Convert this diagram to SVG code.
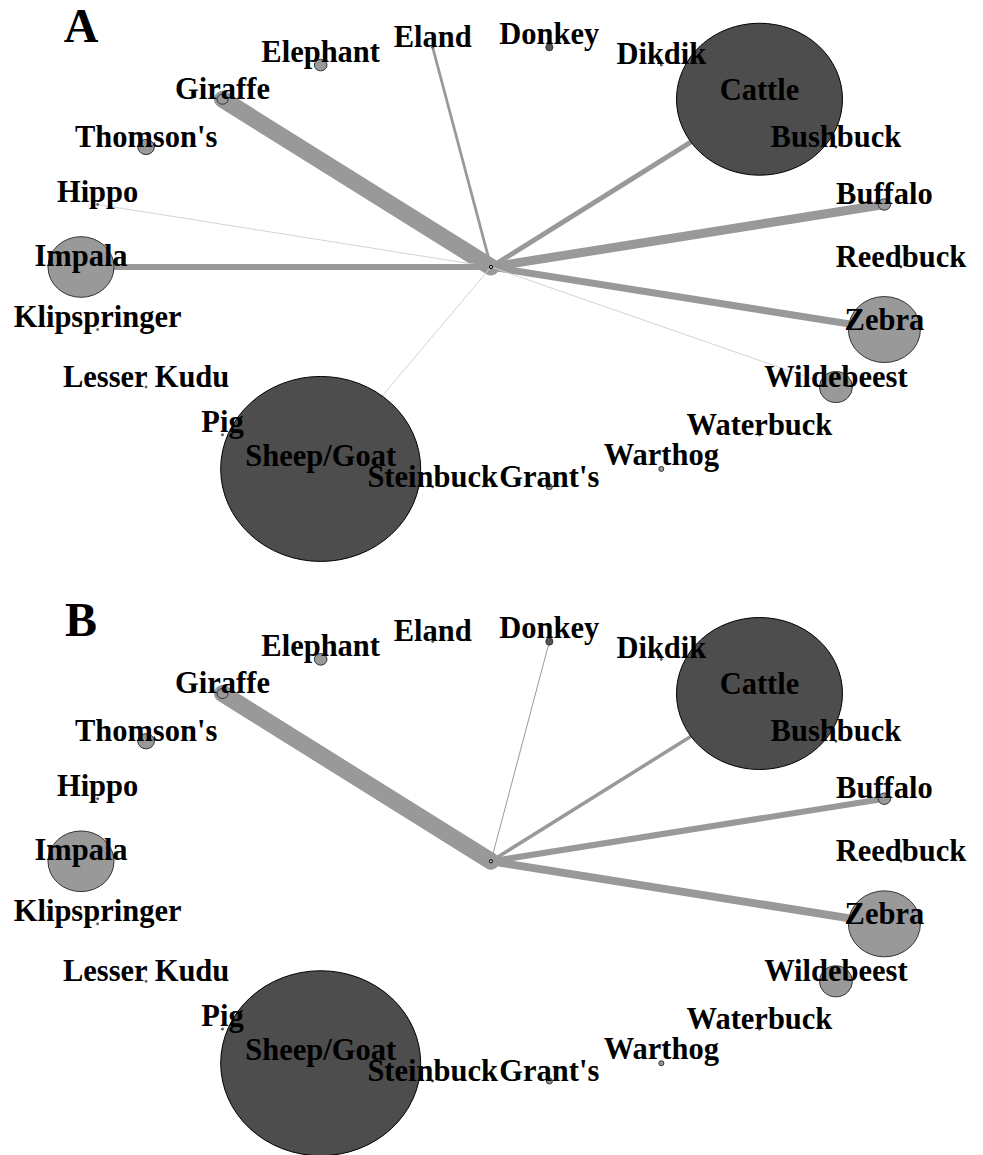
<svg xmlns="http://www.w3.org/2000/svg" xmlns:xlink="http://www.w3.org/1999/xlink" width="983" height="1155" viewBox="0 0 983 1155">
<style>
.lbl{font-family:"Liberation Serif","Times New Roman",serif;font-weight:bold;font-size:30.5px;text-anchor:middle;fill:#000}
.pl{font-family:"Liberation Serif","Times New Roman",serif;font-weight:bold;font-size:48px;text-anchor:middle;fill:#000}
.e{stroke:#999;stroke-linecap:round;fill:none}
.f{stroke:#d3d3d3;stroke-width:1}
.dk{fill:#4d4d4d;stroke:#000;stroke-width:1}
.md{fill:#999;stroke:#333;stroke-width:1}
.tn{fill:#999;stroke:#222;stroke-width:0.8}
.ct{fill:#ccc;stroke:#000;stroke-width:1}
</style>
<rect width="983" height="1155" fill="#fff"/>

<g id="panelA">
<text class="pl" x="81" y="42">A</text>
<g id="A-edges">
<line class="e" x1="491" y1="267" x2="222.51" y2="99.22" stroke-width="17"/>
<line class="e" x1="491" y1="267" x2="432.65" y2="47.26" stroke-width="2.8"/>
<line class="e" x1="491" y1="267" x2="759.49" y2="99.22" stroke-width="5"/>
<line class="e" x1="491" y1="267" x2="884.39" y2="204.46" stroke-width="9"/>
<line class="e f" x1="491" y1="267" x2="97.61" y2="204.46"/>
<line class="e" x1="491" y1="267" x2="81" y2="267" stroke-width="6"/>
<line class="e" x1="491" y1="267" x2="884.39" y2="329.54" stroke-width="7"/>
<line class="e f" x1="491" y1="267" x2="835.91" y2="387.02"/>
<line class="e f" x1="491" y1="267" x2="320.68" y2="468.94"/>
</g>
<g id="A-nodes">
<g id="A-center"><circle class="ct" cx="491" cy="267" r="1.6"/></g>
<g id="A-reedbuck"><circle class="tn" cx="901" cy="267" r="1"/><text class="lbl" x="901" y="267">Reedbuck</text></g>
<g id="A-buffalo"><ellipse class="md" cx="884.39" cy="204.46" rx="6.2" ry="5.7"/><text class="lbl" x="884.39" y="204">Buffalo</text></g>
<g id="A-bushbuck"><circle class="tn" cx="835.91" cy="146.98" r="1"/></g>
<g id="A-cattle"><ellipse class="dk" cx="759.49" cy="99.22" rx="83" ry="76"/><text class="lbl" x="759.49" y="99.5">Cattle</text></g>
<g id="A-bushbuck-label"><text class="lbl" x="835.91" y="147">Bushbuck</text></g>
<g id="A-dikdik"><circle class="tn" cx="661.32" cy="65.06" r="1"/><text class="lbl" x="661.32" y="64">Dikdik</text></g>
<g id="A-donkey"><circle cx="549.35" cy="47.26" r="3.6" fill="#555" stroke="#222" stroke-width="0.8"/><text class="lbl" x="549.35" y="43.5">Donkey</text></g>
<g id="A-eland"><circle class="tn" cx="432.65" cy="47.26" r="1"/><text class="lbl" x="432.65" y="46.5">Eland</text></g>
<g id="A-elephant"><ellipse class="md" cx="320.68" cy="65.06" rx="6.3" ry="5.8"/><text class="lbl" x="320.68" y="61.5">Elephant</text></g>
<g id="A-giraffe"><ellipse class="md" cx="222.51" cy="99.22" rx="5.5" ry="5"/><text class="lbl" x="222.51" y="99">Giraffe</text></g>
<g id="A-thomsons"><ellipse class="md" cx="146.09" cy="146.98" rx="8.3" ry="7.6"/><text class="lbl" x="146.09" y="146.5">Thomson's</text></g>
<g id="A-hippo"><circle class="tn" cx="97.61" cy="204.46" r="1"/><text class="lbl" x="97.61" y="202">Hippo</text></g>
<g id="A-impala"><ellipse class="md" cx="81" cy="267" rx="33" ry="30.3"/><text class="lbl" x="81" y="265.5">Impala</text></g>
<g id="A-klipspringer"><circle class="tn" cx="97.61" cy="329.54" r="1"/><text class="lbl" x="97.61" y="327">Klipspringer</text></g>
<g id="A-lesserkudu"><circle class="tn" cx="146.09" cy="387.02" r="1"/><text class="lbl" x="146.09" y="386.5">Lesser Kudu</text></g>
<g id="A-sheepgoat"><ellipse class="dk" cx="320.68" cy="468.94" rx="100" ry="92.5"/></g>
<g id="A-pig"><circle class="tn" cx="222.51" cy="434.78" r="1"/><text class="lbl" x="222.51" y="432">Pig</text></g>
<g id="A-sheepgoat-label"><text class="lbl" x="320.68" y="466">Sheep/Goat</text></g>
<g id="A-steinbuck"><circle class="tn" cx="432.65" cy="486.74" r="1"/><text class="lbl" x="432.65" y="487">Steinbuck</text></g>
<g id="A-grants"><circle class="md" cx="549.35" cy="486.74" r="3"/><text class="lbl" x="549.35" y="487">Grant's</text></g>
<g id="A-warthog"><circle class="md" cx="661.32" cy="468.94" r="2.5"/><text class="lbl" x="661.32" y="465">Warthog</text></g>
<g id="A-waterbuck"><circle class="tn" cx="759.49" cy="434.78" r="1"/><text class="lbl" x="759.49" y="434.5">Waterbuck</text></g>
<g id="A-wildebeest"><ellipse class="md" cx="835.91" cy="387.02" rx="16.5" ry="15.5"/><text class="lbl" x="835.91" y="387">Wildebeest</text></g>
<g id="A-zebra"><ellipse class="md" cx="884.39" cy="329.54" rx="36" ry="33"/><text class="lbl" x="884.39" y="329.5">Zebra</text></g>
</g>
</g>

<g id="panelB" transform="translate(0,594.3)">
<text class="pl" x="81" y="42">B</text>
<g id="B-edges">
<line class="e" x1="491" y1="267" x2="222.51" y2="99.22" stroke-width="17"/>
<line class="e" x1="491" y1="267" x2="549.35" y2="47.26" stroke="#aaa" stroke-width="1"/>
<line class="e" x1="491" y1="267" x2="759.49" y2="99.22" stroke-width="3.5"/>
<line class="e" x1="491" y1="267" x2="884.39" y2="204.46" stroke-width="6"/>
<line class="e" x1="491" y1="267" x2="884.39" y2="329.54" stroke-width="8"/>
</g>
<g id="B-nodes">
<g id="B-center"><circle class="ct" cx="491" cy="267" r="1.6"/></g>
<g id="B-reedbuck"><circle class="tn" cx="901" cy="267" r="1"/><text class="lbl" x="901" y="267">Reedbuck</text></g>
<g id="B-buffalo"><ellipse class="md" cx="884.39" cy="204.46" rx="6.2" ry="5.7"/><text class="lbl" x="884.39" y="204">Buffalo</text></g>
<g id="B-bushbuck"><circle class="tn" cx="835.91" cy="146.98" r="1"/></g>
<g id="B-cattle"><ellipse class="dk" cx="759.49" cy="99.22" rx="83" ry="76"/><text class="lbl" x="759.49" y="99.5">Cattle</text></g>
<g id="B-bushbuck-label"><text class="lbl" x="835.91" y="147">Bushbuck</text></g>
<g id="B-dikdik"><circle class="tn" cx="661.32" cy="65.06" r="1"/><text class="lbl" x="661.32" y="64">Dikdik</text></g>
<g id="B-donkey"><circle cx="549.35" cy="47.26" r="3.6" fill="#555" stroke="#222" stroke-width="0.8"/><text class="lbl" x="549.35" y="43.5">Donkey</text></g>
<g id="B-eland"><circle class="tn" cx="432.65" cy="47.26" r="1"/><text class="lbl" x="432.65" y="46.5">Eland</text></g>
<g id="B-elephant"><ellipse class="md" cx="320.68" cy="65.06" rx="6.3" ry="5.8"/><text class="lbl" x="320.68" y="61.5">Elephant</text></g>
<g id="B-giraffe"><ellipse class="md" cx="222.51" cy="99.22" rx="5.5" ry="5"/><text class="lbl" x="222.51" y="99">Giraffe</text></g>
<g id="B-thomsons"><ellipse class="md" cx="146.09" cy="146.98" rx="8.3" ry="7.6"/><text class="lbl" x="146.09" y="146.5">Thomson's</text></g>
<g id="B-hippo"><circle class="tn" cx="97.61" cy="204.46" r="1"/><text class="lbl" x="97.61" y="202">Hippo</text></g>
<g id="B-impala"><ellipse class="md" cx="81" cy="267" rx="33" ry="30.3"/><text class="lbl" x="81" y="265.5">Impala</text></g>
<g id="B-klipspringer"><circle class="tn" cx="97.61" cy="329.54" r="1"/><text class="lbl" x="97.61" y="327">Klipspringer</text></g>
<g id="B-lesserkudu"><circle class="tn" cx="146.09" cy="387.02" r="1"/><text class="lbl" x="146.09" y="386.5">Lesser Kudu</text></g>
<g id="B-sheepgoat"><ellipse class="dk" cx="320.68" cy="468.94" rx="100" ry="92.5"/></g>
<g id="B-pig"><circle class="tn" cx="222.51" cy="434.78" r="1"/><text class="lbl" x="222.51" y="432">Pig</text></g>
<g id="B-sheepgoat-label"><text class="lbl" x="320.68" y="466">Sheep/Goat</text></g>
<g id="B-steinbuck"><circle class="tn" cx="432.65" cy="486.74" r="1"/><text class="lbl" x="432.65" y="487">Steinbuck</text></g>
<g id="B-grants"><circle class="md" cx="549.35" cy="486.74" r="3"/><text class="lbl" x="549.35" y="487">Grant's</text></g>
<g id="B-warthog"><circle class="md" cx="661.32" cy="468.94" r="2.5"/><text class="lbl" x="661.32" y="465">Warthog</text></g>
<g id="B-waterbuck"><circle class="tn" cx="759.49" cy="434.78" r="1"/><text class="lbl" x="759.49" y="434.5">Waterbuck</text></g>
<g id="B-wildebeest"><ellipse class="md" cx="835.91" cy="387.02" rx="16.5" ry="15.5"/><text class="lbl" x="835.91" y="387">Wildebeest</text></g>
<g id="B-zebra"><ellipse class="md" cx="884.39" cy="329.54" rx="36" ry="33"/><text class="lbl" x="884.39" y="329.5">Zebra</text></g>
</g>
</g>
</svg>
